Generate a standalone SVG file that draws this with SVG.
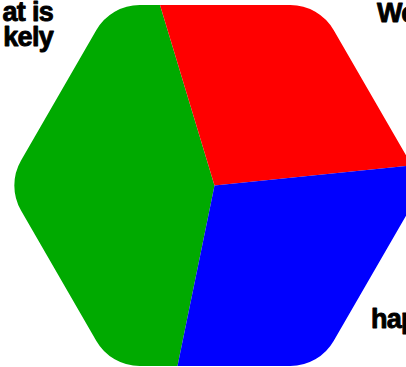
<svg xmlns="http://www.w3.org/2000/svg" width="406" height="367" viewBox="0 0 406 367">
  <style>
    .lbl { font-family: "Liberation Sans", Arial, sans-serif; font-weight: bold; font-size: 27px; fill: #000; stroke: #000; stroke-width: 0.9px; stroke-linejoin: round; letter-spacing: -0.7px; }
  </style>
  <defs>
    <clipPath id="hex">
      <path d="M139.67,5 H290.33 A50,50 0 0 1 333.63,30 L408.97,160.5 A50,50 0 0 1 408.97,210.5 L333.63,341 A50,50 0 0 1 290.33,366 H139.67 A50,50 0 0 1 96.37,341 L21.03,210.5 A50,50 0 0 1 21.03,160.5 L96.37,30 A50,50 0 0 1 139.67,5 Z"/>
    </clipPath>
  </defs>
  <rect width="406" height="367" fill="#fff"/>
  <g id="pie" clip-path="url(#hex)">
    <g id="slice-green"><polygon points="214.5,185.5 140.5,546.5 -200,600 -200,-200 105.5,-175.5" fill="#00aa00"/></g>
    <g id="slice-red"><polygon points="214.5,185.5 105.5,-175.5 620,-200 614.5,144.7" fill="#ff0000"/></g>
    <g id="slice-blue"><polygon points="214.5,185.5 614.5,144.7 620,600 140.5,546.5" fill="#0000ff"/></g>
  </g>
  <g id="labels">
    <text class="lbl" x="53" y="21" text-anchor="end">at is</text>
    <text class="lbl" x="53" y="46" text-anchor="end">kely</text>
    <text class="lbl" x="377" y="22">We</text>
    <text class="lbl" x="371" y="328">hap</text>
  </g>
</svg>
